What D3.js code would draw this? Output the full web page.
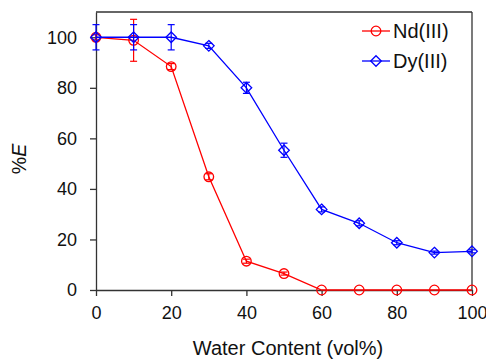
<!DOCTYPE html>
<html>
<head>
<meta charset="utf-8">
<script src="https://cdn.jsdelivr.net/npm/d3@7"></script>
<style>
body { margin: 0; background: #fff; }
text { font-family: "Liberation Sans", Arial, sans-serif; }
</style>
</head>
<body>
<div id="chart"></div>
<script>
var waterContent = [0, 10, 20, 30, 40, 50, 60, 70, 80, 90, 100];
var ndValues = [100, 98.8, 88.4, 44.8, 11.4, 6.5, 0, 0, 0, 0, 0];
var ndErrors = [1, 8.3, 1.2, 1.2, 0.8, 0.6, 0, 0, 0, 0, 0];
var dyValues = [100, 100, 100, 96.6, 80, 55.3, 31.9, 26.4, 18.7, 14.8, 15.3];
var dyErrors = [5, 5, 5, 1, 2.2, 2.8, 1, 1, 0.8, 0.6, 0.6];
var xTicks = [0, 20, 40, 60, 80, 100];
var yTicks = [0, 20, 40, 60, 80, 100];
var seriesNames = ["Nd(III)", "Dy(III)"];

var width = 486, height = 359;
var margin = {left: 96, right: 14, top: 12, bottom: 69};

var svg = d3.select("#chart").append("svg").attr("width", width).attr("height", height);

var x = d3.scaleLinear().domain([0, 100]).range([margin.left, width - margin.right]);
var y = d3.scaleLinear().domain([0, 110]).range([height - margin.bottom, margin.top]);

//frame top and right
svg.append("line").attr("x1", x(0)).attr("x2", x(100)).attr("y1", y(110)).attr("y2", y(110)).style("stroke", "#333").style("stroke-width", 1.3);
svg.append("line").attr("x1", x(100)).attr("x2", x(100)).attr("y1", y(110)).attr("y2", y(0)).style("stroke", "#333").style("stroke-width", 1.3);

var xAxis = svg.append("g").attr("transform", "translate(0," + y(0) + ")")
	.call(d3.axisBottom(x).tickValues(xTicks).tickSize(6).tickSizeOuter(0).tickPadding(10));
var yAxis = svg.append("g").attr("transform", "translate(" + x(0) + ",0)")
	.call(d3.axisLeft(y).tickValues(yTicks).tickSize(6).tickSizeOuter(0).tickPadding(13));

[xAxis, yAxis].forEach(function(a){
	a.select(".domain").style("stroke", "#333").style("stroke-width", 1.3);
	a.selectAll(".tick line").style("stroke", "#333").style("stroke-width", 1.3);
	a.selectAll(".tick text").style("font-size", "18px").style("fill", "#111").style("font-family", "Liberation Sans, Arial, sans-serif");
});

svg.append("text").attr("x", (x(0) + x(100)) / 2 + 4).attr("y", 355).attr("text-anchor", "middle")
	.style("font-size", "20px").style("fill", "#111").text("Water Content (vol%)");

var yl = svg.append("text").attr("transform", "translate(26," + 159 + ") rotate(-90)").attr("text-anchor", "middle")
	.style("font-size", "19.5px").style("fill", "#111");
yl.append("tspan").text("%");
yl.append("tspan").style("font-style", "italic").text("E");

var line = d3.line().x(function(d){ return x(d[0]); }).y(function(d){ return y(d[1]); });

function drawSeries(vals, errs, color, shape) {
	var pts = waterContent.map(function(w, i){ return [w, vals[i], errs[i]]; });
	svg.append("path").datum(pts).attr("d", line).style("fill", "none").style("stroke", color).style("stroke-width", 1.3);
	var g = svg.append("g");
	pts.forEach(function(p){
		if (p[2] > 0.5) {
			var px = x(p[0]);
			g.append("line").attr("x1", px).attr("x2", px).attr("y1", y(p[1] + p[2])).attr("y2", y(p[1] - p[2])).style("stroke", color).style("stroke-width", 1.2);
			g.append("line").attr("x1", px - 3.5).attr("x2", px + 3.5).attr("y1", y(p[1] + p[2])).attr("y2", y(p[1] + p[2])).style("stroke", color).style("stroke-width", 1.2);
			g.append("line").attr("x1", px - 3.5).attr("x2", px + 3.5).attr("y1", y(p[1] - p[2])).attr("y2", y(p[1] - p[2])).style("stroke", color).style("stroke-width", 1.2);
		}
		drawMarker(g, x(p[0]), y(p[1]), color, shape);
	});
}

function drawMarker(g, cx, cy, color, shape) {
	if (shape == "circle") {
		g.append("circle").attr("cx", cx).attr("cy", cy).attr("r", 4.8).style("fill", "none").style("stroke", color).style("stroke-width", 1.3);
	} else {
		var s = 5.3;
		g.append("path").attr("d", "M" + cx + "," + (cy - s) + "L" + (cx + s) + "," + cy + "L" + cx + "," + (cy + s) + "L" + (cx - s) + "," + cy + "Z")
			.style("fill", "none").style("stroke", color).style("stroke-width", 1.3);
	}
}

drawSeries(ndValues, ndErrors, "#ff0000", "circle");
drawSeries(dyValues, dyErrors, "#0000ff", "diamond");

//legend
var legColors = ["#ff0000", "#0000ff"];
var legShapes = ["circle", "diamond"];
seriesNames.forEach(function(n, i){
	var ly = 31 + i * 30;
	svg.append("line").attr("x1", 362).attr("x2", 390).attr("y1", ly).attr("y2", ly).style("stroke", legColors[i]).style("stroke-width", 1.3);
	drawMarker(svg, 376, ly, legColors[i], legShapes[i]);
	svg.append("text").attr("x", 393).attr("y", ly + 7).style("font-size", "20px").style("fill", "#111").text(n);
});
</script>
</body>
</html>
